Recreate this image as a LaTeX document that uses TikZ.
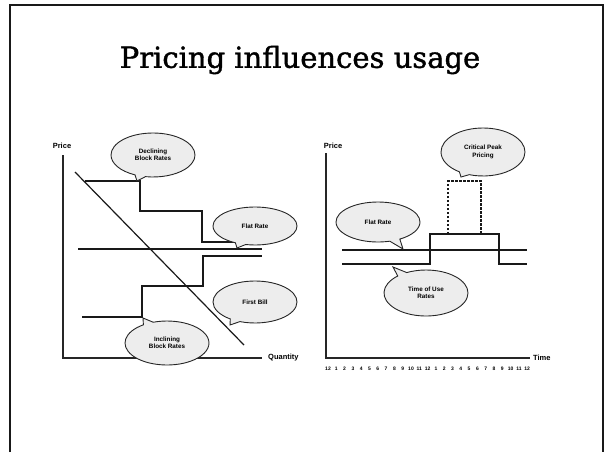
\documentclass[tikz,border=0pt]{standalone}
\usepackage{fontspec}
\setmainfont{DejaVu Serif}
\setsansfont{Liberation Sans}
\newfontfamily\titlefont{DejaVu Serif}[FakeBold=1.3]
\usetikzlibrary{shapes.callouts}
\begin{document}
\begin{tikzpicture}[x=1pt,y=-1pt,
  line/.style={line width=1.4pt,black!90},
  axis/.style={line width=1.2pt,black!85},
  bubble/.style={ellipse callout,draw=black!85,line width=0.9pt,fill=black!7,
     minimum width=84pt,minimum height=44pt,inner sep=0pt,align=center,
     font=\sffamily\bfseries\fontsize{6.3}{7.3}\selectfont},
  lbl/.style={font=\sffamily\bfseries\fontsize{7.5}{8}\selectfont,inner sep=0pt},
  hr/.style={font=\sffamily\bfseries\fontsize{5}{5}\selectfont,inner sep=0pt}]
\useasboundingbox (0,0) rectangle (604,452);
% frame
\draw[line width=2pt,black!90] (10,452) -- (10,5) -- (603,5) -- (603,452);
% title
\node (title) at (300,60) {\titlefont\fontsize{29}{32}\selectfont Pricing influences usage};

% ---------- left chart ----------
\coordinate (lo) at (63,358);
\coordinate (ltop) at (63,155);
\coordinate (lend) at (262,358);
\draw[axis] (ltop) -- (lo) -- (lend);
\node[lbl,anchor=south] (lprice) at (62,149) {Price};
\node[lbl,anchor=west] (lqty) at (268,358) {Quantity};
% demand diagonal
\coordinate (d1) at (75,172);
\coordinate (d2) at (244,345);
\draw[line,line width=1.2pt] (d1) -- (d2);
% declining block
\draw[line] (85,181) -- (140,181) -- (140,211) -- (202,211) -- (202,242) -- (262,242);
% flat rate
\draw[line] (78,249) -- (262,249);
% inclining block
\draw[line] (82,317) -- (142,317) -- (142,286) -- (203,286) -- (203,256) -- (262,256);
% callouts
\node[bubble,callout absolute pointer={(137,181)}] (decl) at (153,155) {Declining\\Block Rates};
\node[bubble,minimum height=38pt,callout absolute pointer={(237,248)}] (lflat) at (255,226) {Flat Rate};
\node[bubble,minimum height=42pt,callout absolute pointer={(230,325)}] (fbill) at (255,302) {First Bill};
\node[bubble,callout absolute pointer={(143,318)}] (incl) at (167,343) {Inclining\\Block Rates};

% ---------- right chart ----------
\coordinate (ro) at (326,358);
\coordinate (rtop) at (326,153);
\coordinate (rend) at (530,358);
\draw[axis] (rtop) -- (ro) -- (rend);
\node[lbl,anchor=south] (rprice) at (333,149) {Price};
\node[lbl,anchor=west] (rtime) at (533,358) {Time};
% flat rate
\draw[line] (342,250) -- (527,250);
% time of use
\draw[line] (342,264) -- (430,264) -- (430,234) -- (499,234) -- (499,264) -- (527,264);
% critical peak
\draw[line,line width=1.2pt,dash pattern=on 2.5pt off 1.5pt] (448,234) -- (448,181) -- (481,181) -- (481,234);
% callouts
\node[bubble,minimum height=48pt,callout absolute pointer={(461,177)}] (cpp) at (483,152) {Critical Peak\\Pricing};
\node[bubble,minimum height=40pt,callout absolute pointer={(403,249)}] (rflat) at (378,222) {Flat Rate};
\node[bubble,minimum height=46pt,callout absolute pointer={(393,267)}] (tou) at (426,293) {Time of Use\\Rates};
% hours
\foreach \h [count=\i from 0] in {12,1,2,3,4,5,6,7,8,9,10,11,12,1,2,3,4,5,6,7,8,9,10,11,12}
  \node[hr] (h\i) at ({328+\i*8.3},369) {\h};
\end{tikzpicture}
\end{document}
